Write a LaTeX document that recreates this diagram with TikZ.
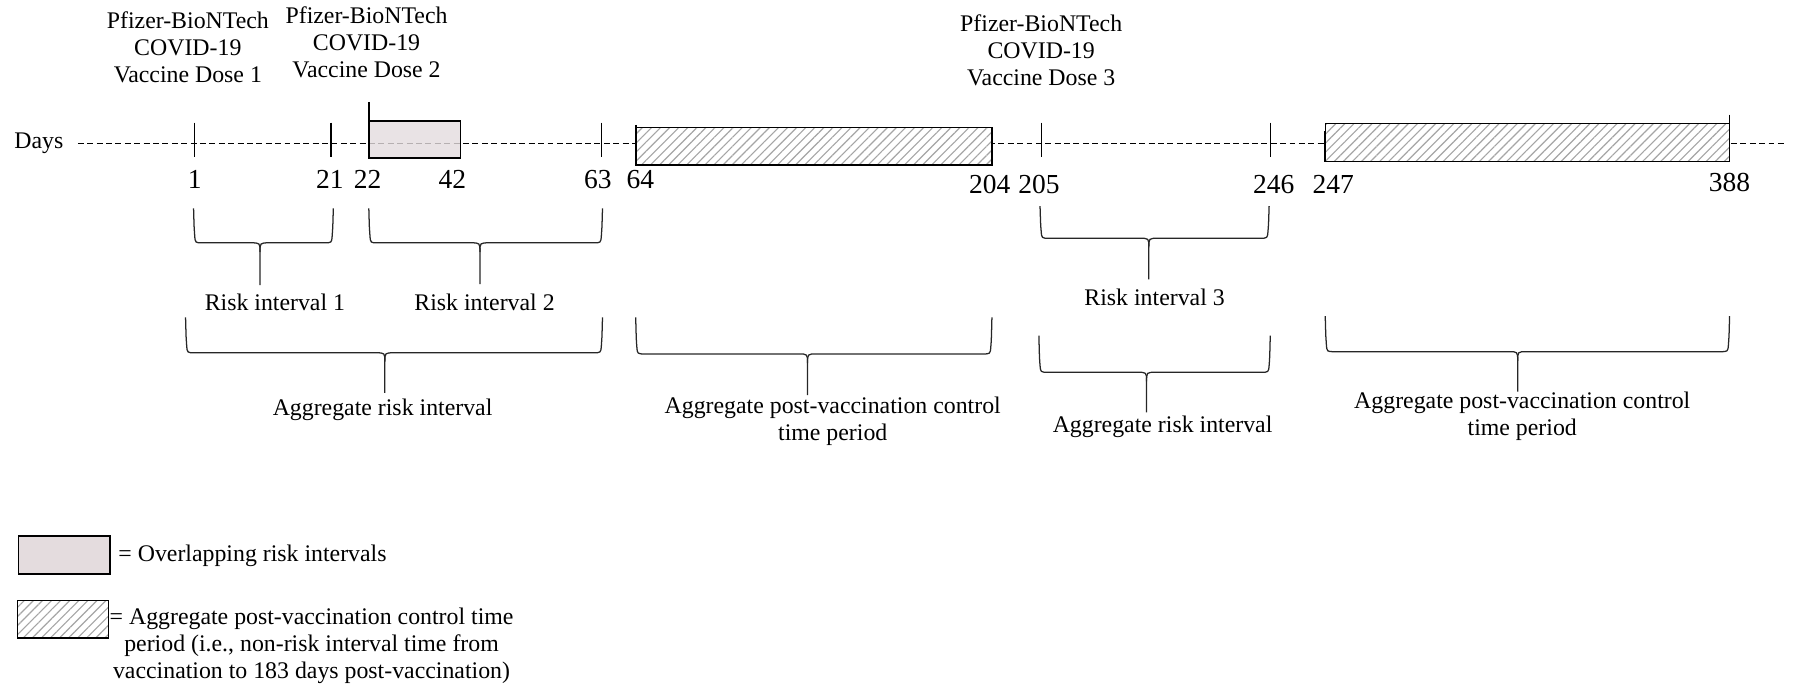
\documentclass[tikz,border=0pt]{standalone}
\usepackage{fontspec}
\setmainfont{Liberation Serif}
\usetikzlibrary{patterns.meta}

\definecolor{overlapgray}{RGB}{228,220,222}
\definecolor{hatchgray}{RGB}{165,165,165}

\tikzset{
  tickmark/.style={line width=0.6pt},
  timeline/.style={line width=0.5pt, dash pattern=on 2.6pt off 1.5pt},
  daynum/.style={font=\fontsize{12}{14}\selectfont, inner sep=0pt},
  lbl/.style={font=\fontsize{10.4}{11.8}\selectfont, inner sep=0pt, align=center},
  overlapbox/.style={draw, line width=0.6pt, fill=overlapgray, fill opacity=0.8},
  controlbox/.style={draw, line width=0.55pt, pattern={Lines[angle=45,distance=2.8pt,line width=0.5pt]}, pattern color=hatchgray},
  bracepath/.style={line width=0.55pt, black!85},
}

% left, right, middle, top, bar, tip
\newcommand{\intervalbrace}[6]{%
  \draw[bracepath] (#1,#4) .. controls (#1+0.5,#5-12) .. (#1+1,#5-6) .. controls (#1+1.5,#5) .. (#1+8,#5) -- (#3-8,#5)
    .. controls (#3,#5) .. (#3,#5+8) -- (#3,#6);
  \draw[bracepath] (#2,#4) .. controls (#2-0.5,#5-12) .. (#2-1,#5-6) .. controls (#2-1.5,#5) .. (#2-8,#5) -- (#3+8,#5)
    .. controls (#3,#5) .. (#3,#5+8);
}

\begin{document}
\begin{tikzpicture}[x=0.5pt, y=-0.5pt]
  \useasboundingbox (0,0) rectangle (1568,601);

  % Doses
  \node[lbl] (dose1) at (164,41) {Pfizer-BioNTech\\COVID-19\\Vaccine Dose 1};
  \node[lbl] (dose2) at (320,37) {Pfizer-BioNTech\\COVID-19\\Vaccine Dose 2};
  \node[lbl] (dose3) at (909,44) {Pfizer-BioNTech\\COVID-19\\Vaccine Dose 3};

  % Time line
  \node[lbl] (days) at (34,125) {Days};
  \coordinate (tstart) at (68,125);
  \coordinate (tend) at (1560,125);
  \draw[timeline] (tstart) -- (tend);

  \foreach \x in {170,289,525,909,1109}
    \draw[tickmark] (\x,107) -- (\x,137);

  % Boxes
  \draw[overlapbox] (322,105.6) rectangle (402,138);
  \draw[tickmark] (322,89) -- (322,105.6);

  \fill[white] (555,111) rectangle (866,144);
  \draw[controlbox] (555,111) rectangle (866,144);
  \draw[line width=1pt] (555,109) -- (555,144);

  \fill[white] (1157,108) rectangle (1510,141);
  \draw[controlbox] (1157,108) rectangle (1510,141);
  \draw[tickmark] (1510,100) -- (1510,108);
  \draw[line width=1pt] (1157,114) -- (1157,141);

  % Day numbers
  \node[daynum] (n1) at (170,157) {1};
  \node[daynum] (n21) at (288,157) {21};
  \node[daynum] (n22) at (321,157) {22};
  \node[daynum] (n42) at (395,157) {42};
  \node[daynum] (n63) at (522,157) {63};
  \node[daynum] (n64) at (559,157) {64};
  \node[daynum] (n204) at (864,161) {204};
  \node[daynum] (n205) at (907,161) {205};
  \node[daynum] (n246) at (1112,161) {246};
  \node[daynum] (n247) at (1164,161) {247};
  \node[daynum] (n388) at (1510,159) {388};

  % Braces
  \intervalbrace{169}{291}{227}{182}{212}{249}
  \node[lbl] (risk1) at (240,264) {Risk interval 1};
  \intervalbrace{322}{526}{419}{182}{212}{248}
  \node[lbl] (risk2) at (423,264) {Risk interval 2};
  \intervalbrace{162}{526}{336}{277}{308}{343}
  \node[lbl] (aggrisk1) at (334,358) {Aggregate risk interval};
  \intervalbrace{555}{866}{705}{277}{309}{345}
  \node[lbl] (aggctrl1) at (727,367.5) {Aggregate post-vaccination control\\time period};
  \intervalbrace{908}{1108}{1003}{180}{208}{244}
  \node[lbl] (risk3) at (1008,260) {Risk interval 3};
  \intervalbrace{907}{1109}{1001}{293}{325}{360}
  \node[lbl] (aggrisk2) at (1015,372.6) {Aggregate risk interval};
  \intervalbrace{1157}{1510}{1325}{276}{307}{342}
  \node[lbl] (aggctrl2) at (1329,363.5) {Aggregate post-vaccination control\\time period};

  % Legend
  \draw[overlapbox, fill opacity=1] (16,468) rectangle (96,501);
  \node[lbl, anchor=west] (legoverlap) at (103,485.5) {= Overlapping risk intervals};
  \fill[white] (15,524) rectangle (94.5,557);
  \draw[controlbox] (15,524) rectangle (94.5,557);
  \node[lbl] (legctrl) at (272,564) {= Aggregate post-vaccination control time\\period (i.e., non-risk interval time from\\vaccination to 183 days post-vaccination)};
\end{tikzpicture}
\end{document}
